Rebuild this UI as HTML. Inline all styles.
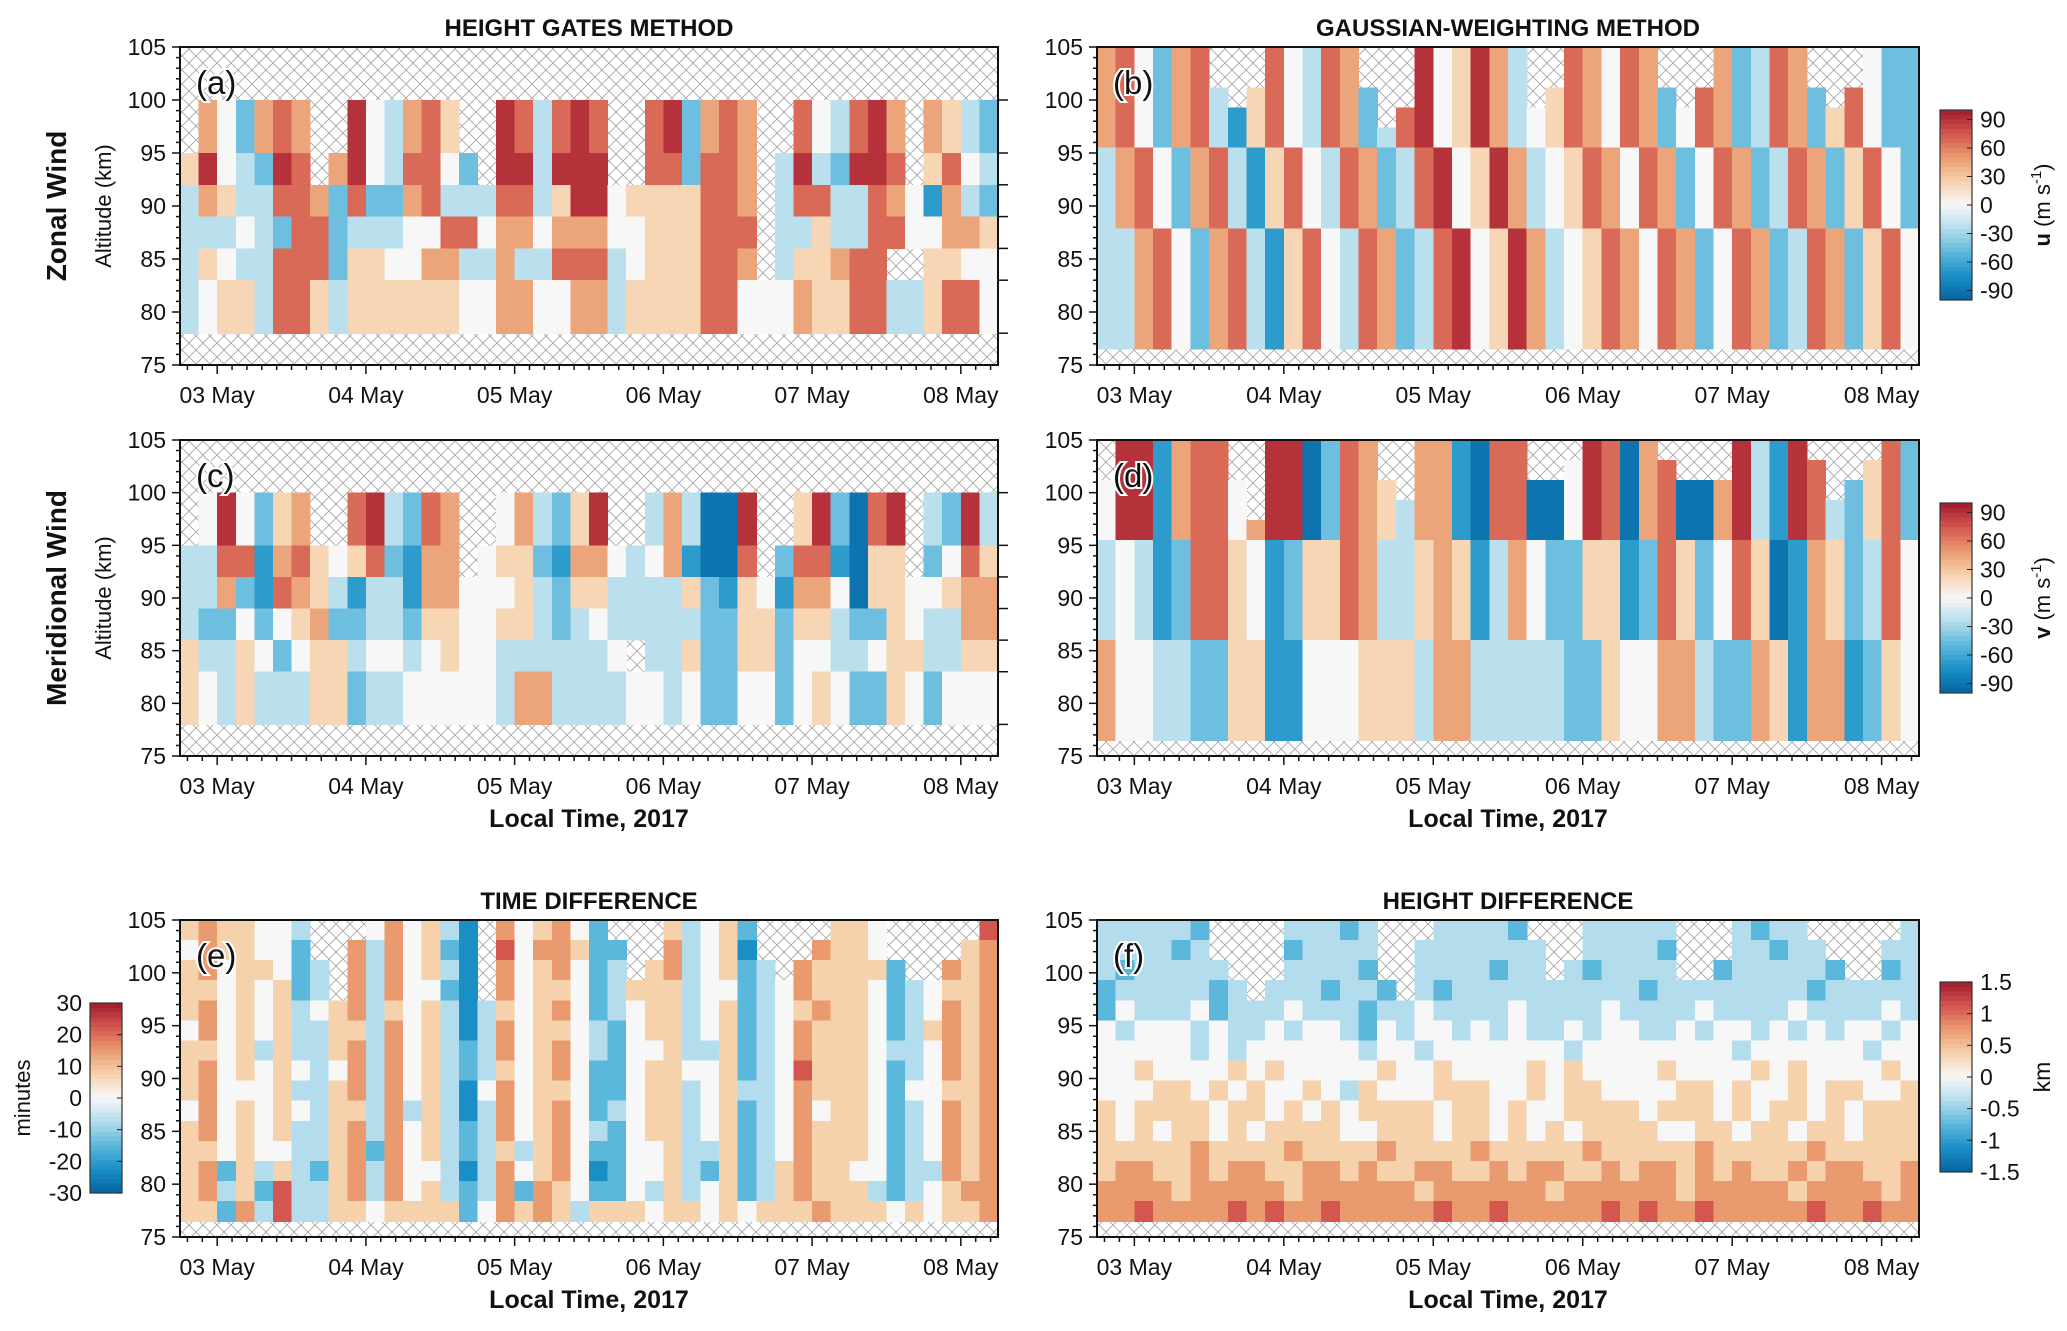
<!DOCTYPE html>
<html><head><meta charset="utf-8"><title>Wind comparison</title>
<style>
html,body{margin:0;padding:0;background:#fff;}
svg{display:block;font-family:"Liberation Sans",Arial,sans-serif;}
</style></head>
<body>
<svg id="fig" xmlns="http://www.w3.org/2000/svg" width="2067" height="1331" viewBox="0 0 2067 1331">
<defs>
<pattern id="hatch" width="14" height="14" patternUnits="userSpaceOnUse">
<rect width="14" height="14" fill="#ffffff"/>
<path d="M0,0L14,14M14,0L0,14" stroke="#a3a3a3" stroke-width="0.8" fill="none"/>
</pattern>
</defs>
<rect width="2067" height="1331" fill="#ffffff"/>
</svg>
<script>
// ---- data ----
const dayLabels = ["03 May","04 May","05 May","06 May","07 May","08 May"];
const dayTicks = [0,1,2,3,4,5];
const altTicks = [75,80,85,90,95,100,105];
const timeStartDay = -0.25;
const colStepDay = 0.125;
const gateEdges = [100,95,92,89,86,83,78];
const gridTop = 105;
const gridRowKm = 1.9;

const aGates = [
".753787..954786..984898..893787..854897.7643",
"6954398.79548853.994999..883887.4943998.6854",
"4764 4887 3833 7844 4884 6995 6666 887. 4884 4875 2743",
"4445 4388 3444 5588 5775 7775 5666 888. 4464 4885 5776",
"4654 4888 3665 5774 4744 8884 5666 887. 4667 88.. 6655",
"4566 4886 4666 6665 5775 5774 6666 8855 5766 8844 6885"];
const cGates = [
".595 367. .894 387. .574 369. .474 119. .693 189. 4394",
"4488 2786 5683 277. 5663 2775 4572 118. 3882 166. 3586",
"4473 2876 4244 2775 5564 3664 4446 3265 2775 1665 5677",
"4335 3567 3344 3665 5664 3454 4444 3366 3664 3365 4477",
"6446 5356 6455 4565 5444 4445 .446 3366 3554 4566 4466",
"6546 4446 6344 5555 5477 4444 5545 3355 3565 3365 3555"];
const bRows = [
"785378...85487...956974..87587...73487...533",
"785378...85487...956974..87587...73487...533",
"7853784.6854873..956974.6875873.8734873.8533",
"785378426854873.8956974568758735873487368533",
"78537842685487348956974568758735873487368533",
"47853784268548734895697456875873587348736853",
"47853784268548734895697456875873587348736853",
"47853784268548734895697456875873587348736853",
"47853784268548734895697456875873587348736853",
"44785378426854873489569745687587358734873685",
"44785378426854873489569745687587358734873685",
"44785378426854873489569745687587358734873685",
"44785378426854873489569745687587358734873685",
"44785378426854873489569745687587358734873685",
"44785378426854873489569745687587358734873685"];
const dRows = [
".992788..991387..772188...9817....9429....83",
".992788..991387..772188..598178...94298..683",
"59927885.9913876.7721881159817811794298.3683",
"59927885.99138764772188115981781179429843683",
"59927885799138764772188115981781179429843683",
"45423886523668744676247533662386358612763485",
"45423886523668744676247533662386358612763485",
"45423886523668744676247533662386358612763485",
"45423886523668744676247533662386358612763485",
"45423886523668744676247533662386358612763485",
"75544336622555666477444443365577433762772365",
"75544336622555666477444443365577433762772365",
"75544336622555666477444443365577433762772365",
"75544336622555666477444443365577433762772365",
"75544336622555666477444443365577433762772365"];
const eRows = [
"6766 5544 6757 5642 4756 7533 5664 5634 5766 6534 5768",
"5766 5534 5747 5632 4857 7633 5674 5624 5776 6524 5767",
"6756 6534 6747 5642 5756 7534 6674 5634 5766 6634 5767",
"6656 5634 5747 5532 4756 6534 6664 5534 5766 6534 5667",
"6756 5645 6746 5642 4656 7534 5664 5634 5676 6534 5767",
"5756 5644 6647 5642 4756 6543 5664 5634 5766 6534 6767",
"6656 4644 6747 5643 4756 7543 5564 4634 5766 6544 5767",
"6756 5654 5747 5643 4656 7533 5665 5634 5866 6534 5767",
"6755 5644 6747 5642 5756 6533 5664 5644 5766 6535 5667",
"5756 5654 6647 4642 4756 7534 5664 5634 5756 6534 5767",
"6756 5644 6747 5643 4756 7543 5664 5634 5766 6534 5767",
"6656 5544 6737 5643 4646 7533 5564 4634 5766 6534 5767",
"6736 4643 6747 5542 4756 7523 5564 3634 6766 5534 4767",
"6746 3844 6747 5643 4737 6533 5464 5634 6766 6434 5677",
"6637 4844 6656 6663 5767 6466 6566 5656 6676 6656 5667"];
const eTopGap = [0,0,0,0,0,0,0,2,4,1,0,0,0,0,0,0,4,0,0,0,0,0,0,1,3,2,0,0,0,0,0,2,3,2,1,0,0,0,2,3,3,2,1,0];
const fRows = [
"4444 4344 4444 4344 4444 4434 4444 4444 4443 4444 4344",
"4444 3444 4434 4443 3444 4444 3444 4434 4444 3444 4444",
"4344 4444 4344 4434 4444 4344 4434 4444 4344 4443 4434",
"3444 4434 4444 3443 4434 4444 4444 4344 4444 4434 4444",
"3544 4534 4454 4434 4544 4454 4445 4444 5444 4544 4454",
"5455 5454 4545 5435 4554 5454 4545 5445 4554 5454 5545",
"5555 5454 5555 5545 5455 5555 5455 5555 5545 5555 5455",
"5565 5556 5655 5556 5565 5556 5655 5565 5556 5655 5565",
"5556 6565 6556 5465 5566 6556 5665 5556 6565 5656 6556",
"6566 6656 6565 6566 6656 6565 5666 6566 6565 6656 5666",
"6565 6656 5666 6556 6656 6565 6566 6655 6656 6566 5666",
"6666 6766 6676 6667 6666 7666 6676 6666 7666 6676 6666",
"6776 6767 7667 7676 6776 6767 7667 6776 7676 6767 7667",
"7777 6777 7767 7777 7677 7777 6777 7776 7777 7677 7767",
"7787 7778 7877 8777 7787 7877 7778 7877 8777 7787 7877"];
const fTopGap = [0,0,0,0,0,0,2,3,4,3,0,0,0,0,0,3,4,1,0,0,0,0,0,1,3,2,0,0,0,0,0,3,3,2,0,0,0,0,1,2,3,3,1,0];
const windTicks = [90,60,30,0,-30,-60,-90];
const minuteTicks = [30,20,10,0,-10,-20,-30];
const kmTicks = [1.5,1,0.5,0,-0.5,-1,-1.5];

// ---- helpers ----
const NS = 'http://www.w3.org/2000/svg';
const svg = document.getElementById('fig');
function mk(tag, attrs, parent){
  const e = document.createElementNS(NS, tag);
  for (const k in attrs) e.setAttribute(k, attrs[k]);
  (parent || svg).appendChild(e);
  return e;
}
const stops = [[-1,[5,98,159]],[-0.75,[26,143,198]],[-0.5,[92,183,220]],[-0.25,[179,220,236]],[0,[247,247,247]],[0.25,[246,210,172]],[0.5,[233,154,110]],[0.75,[211,86,79]],[1,[161,26,44]]];
function cmap(t){
  t = Math.max(-1, Math.min(1, t));
  for (let i=0;i<stops.length-1;i++){
    const [t0,c0]=stops[i],[t1,c1]=stops[i+1];
    if (t>=t0 && t<=t1){
      const f=(t-t0)/(t1-t0);
      return 'rgb('+c0.map((v,k)=>Math.round(v+(c1[k]-v)*f)).join(',')+')';
    }
  }
  return 'rgb(161,26,44)';
}
function parseRow(s, scale){
  return s.replace(/ /g,'').split('').map(ch => ch==='.' ? null : (Number(ch)-5)*scale);
}

const panels = {
  a:{x0:180,x1:998,y0:47,y1:365},
  b:{x0:1097,x1:1919,y0:47,y1:365},
  c:{x0:180,x1:998,y0:440,y1:756},
  d:{x0:1097,x1:1919,y0:440,y1:756},
  e:{x0:180,x1:998,y0:920,y1:1237},
  f:{x0:1097,x1:1919,y0:920,y1:1237}
};
function xs(p,t){ return p.x0 + (t+0.25)/5.5*(p.x1-p.x0); }
function ys(p,z){ return p.y1 - (z-75)/30*(p.y1-p.y0); }

function drawBackground(p, key){
  const r = mk('rect',{x:p.x0,y:p.y0,width:p.x1-p.x0,height:p.y1-p.y0,fill:'url(#hatch)'});
  
  
}

function drawGates(p, key, rows, scale, range){
  const g = mk('g',{'shape-rendering':'crispEdges'});
  
  
  rows.forEach((s, gi) => {
    const vals = parseRow(s, scale);
    const zTop = gateEdges[gi], zBot = gateEdges[gi+1];
    vals.forEach((v, j) => {
      if (v === null) return;
      const xa = xs(p, timeStartDay + j*colStepDay), xb = xs(p, timeStartDay + (j+1)*colStepDay);
      const c = mk('rect',{x:xa.toFixed(2),y:ys(p,zTop).toFixed(2),width:(xb-xa+0.6).toFixed(2),height:(ys(p,zBot)-ys(p,zTop)+0.6).toFixed(2),fill:cmap(v/range)}, g);
      
      
    });
  });
}

function drawGrid(p, key, rows, scale, range, topGap){
  const g = mk('g',{'shape-rendering':'crispEdges'});
  
  
  rows.forEach((s, r) => {
    const vals = parseRow(s, scale);
    const zTop = gridTop - r*gridRowKm, zBot = gridTop - (r+1)*gridRowKm;
    vals.forEach((v, j) => {
      if (v === null) return;
      if (topGap && r < topGap[j]) return;
      const xa = xs(p, timeStartDay + j*colStepDay), xb = xs(p, timeStartDay + (j+1)*colStepDay);
      const c = mk('rect',{x:xa.toFixed(2),y:ys(p,zTop).toFixed(2),width:(xb-xa+0.6).toFixed(2),height:(ys(p,zBot)-ys(p,zTop)+0.6).toFixed(2),fill:cmap(v/range)}, g);
      
      
    });
  });
}

function drawAxes(p, key, labelLeft, showXTitle, gateTicks){
  const g = mk('g',{});
  
  
  const frame = mk('rect',{x:p.x0,y:p.y0,width:p.x1-p.x0,height:p.y1-p.y0,fill:'none',stroke:'#111',"stroke-width":2}, g);
  
  
  for (let z=75; z<=105; z++){
    const major = z%5===0;
    const t = mk('line',{x1:p.x0,x2:p.x0-(major?8:4),y1:ys(p,z),y2:ys(p,z),stroke:'#111','stroke-width':1.5}, g);
    
    
  }
  altTicks.forEach(z => {
    const t = mk('text',{x:p.x0-14,y:ys(p,z)+8,'font-size':23,'text-anchor':'end',fill:'#111'}, g);
    
    
    t.textContent = z;
  });
  for (let k=-2; k<=52; k++){
    const t0 = k/10;
    const major = k%10===0;
    const t = mk('line',{x1:xs(p,t0),x2:xs(p,t0),y1:p.y1,y2:p.y1+(major?9:5),stroke:'#111','stroke-width':1.5}, g);
    
    
  }
  dayTicks.forEach((d,i) => {
    const t = mk('text',{x:xs(p,d),y:p.y1+38,'font-size':23,'text-anchor':'middle',fill:'#111'}, g);
    
    
    t.textContent = dayLabels[i];
  });
  if (gateTicks){
    gateEdges.forEach(z => {
      const t = mk('line',{x1:p.x1,x2:p.x1+10,y1:ys(p,z),y2:ys(p,z),stroke:'#111','stroke-width':1.5}, g);
      
      
    });
  }
  if (showXTitle){
    const t = mk('text',{x:(p.x0+p.x1)/2,y:p.y1+71,'font-size':25,'font-weight':'bold','text-anchor':'middle',fill:'#111'}, g);
    
    
    t.textContent = 'Local Time, 2017';
  }
  const lab = mk('text',{x:p.x0+16,y:p.y0+47,'font-size':33,fill:'#111',stroke:'#fff','stroke-width':4,'paint-order':'stroke'}, g);
  
  
  lab.textContent = '('+key+')';
}

function drawColorbar(key, x, y0, y1, ticks, range, labelsLeft, unitBuilder){
  const g = mk('g',{});
  
  
  const n = 40, h = (y1-y0)/n;
  for (let i=0;i<n;i++){
    const v = range - (i+0.5)*(2*range/n);
    const r = mk('rect',{x:x,y:(y0+i*h).toFixed(2),width:32,height:(h+0.5).toFixed(2),fill:cmap(v/range),'shape-rendering':'crispEdges'}, g);
    
    
  }
  const fr = mk('rect',{x:x,y:y0,width:32,height:y1-y0,fill:'none',stroke:'#333','stroke-width':1.2}, g);
  
  
  ticks.forEach(v => {
    const yy = y0 + (range - v)/(2*range)*(y1-y0);
    const tk = mk('line',{x1:x+32,x2:x+27,y1:yy,y2:yy,stroke:'#222','stroke-width':1}, g);
    
    
    const t = mk('text',{x: labelsLeft ? x-8 : x+40, y: yy+8,'font-size':23,'text-anchor': labelsLeft?'end':'start',fill:'#111'}, g);
    
    
    t.textContent = v;
  });
  unitBuilder(g);
}

// ---- build ----
const P = panels;
['a','b','c','d','e','f'].forEach(k => drawBackground(P[k], k));
drawGates(P.a, 'a', aGates, 22.5, 100);
drawGates(P.c, 'c', cGates, 22.5, 100);
drawGrid(P.b, 'b', bRows, 22.5, 100, null);
drawGrid(P.d, 'd', dRows, 22.5, 100, null);
drawGrid(P.e, 'e', eRows, 7.5, 30, eTopGap);
drawGrid(P.f, 'f', fRows, 0.375, 1.5, fTopGap);
drawAxes(P.a, 'a', true, false, true);
drawAxes(P.b, 'b', false, false, false);
drawAxes(P.c, 'c', true, true, true);
drawAxes(P.d, 'd', false, true, false);
drawAxes(P.e, 'e', true, true, false);
drawAxes(P.f, 'f', false, true, false);

const titles = [['HEIGHT GATES METHOD',589,36,'title-height-gates'],['GAUSSIAN-WEIGHTING METHOD',1508,36,'title-gaussian-weighting'],['TIME DIFFERENCE',589,909,'title-time-difference'],['HEIGHT DIFFERENCE',1508,909,'title-height-difference']];
titles.forEach(tt => {
  const t = mk('text',{x:tt[1],y:tt[2],'font-size':24,'font-weight':'bold','text-anchor':'middle',fill:'#111'});
  
  
  t.textContent = tt[0];
});
const rowLabs = [['Zonal Wind',66,206,'row-label-zonal-wind'],['Meridional Wind',66,598,'row-label-meridional-wind']];
rowLabs.forEach(rl => {
  const t = mk('text',{x:rl[1],y:rl[2],'font-size':28,'font-weight':'bold','text-anchor':'middle',fill:'#111',transform:'rotate(-90 '+rl[1]+' '+rl[2]+')'});
  
  
  t.textContent = rl[0];
});
[[206,'y-axis-title-a'],[598,'y-axis-title-c']].forEach(al => {
  const t = mk('text',{x:111,y:al[0],'font-size':22,'text-anchor':'middle',fill:'#111',transform:'rotate(-90 111 '+al[0]+')'});
  
  
  t.textContent = 'Altitude (km)';
});

function windUnit(letter, cy){
  return function(g){
    const t = mk('text',{x:2050,y:cy,'font-size':22,'text-anchor':'middle',fill:'#111',transform:'rotate(-90 2050 '+cy+')'}, g);
    
    
    const s1 = mk('tspan',{'font-weight':'bold'}, t); s1.textContent = letter;
    const s2 = mk('tspan',{}, t); s2.textContent = ' (m s';
    const s3 = mk('tspan',{'font-size':15,dy:-9}, t); s3.textContent = '-1';
    const s4 = mk('tspan',{dy:9}, t); s4.textContent = ')';
  };
}
drawColorbar('u', 1940, 110, 300, windTicks, 100, false, windUnit('u', 205));
drawColorbar('v', 1940, 503, 693, windTicks, 100, false, windUnit('v', 598));
drawColorbar('minutes', 90, 1003, 1193, minuteTicks, 30, true, function(g){
  const t = mk('text',{x:30,y:1098,'font-size':22,'text-anchor':'middle',fill:'#111',transform:'rotate(-90 30 1098)'}, g);
  
  
  t.textContent = 'minutes';
});
drawColorbar('km', 1940, 982, 1172, kmTicks, 1.5, false, function(g){
  const t = mk('text',{x:2050,y:1077,'font-size':23,'text-anchor':'middle',fill:'#111',transform:'rotate(-90 2050 1077)'}, g);
  
  
  t.textContent = 'km';
});
</script>
</body></html>
